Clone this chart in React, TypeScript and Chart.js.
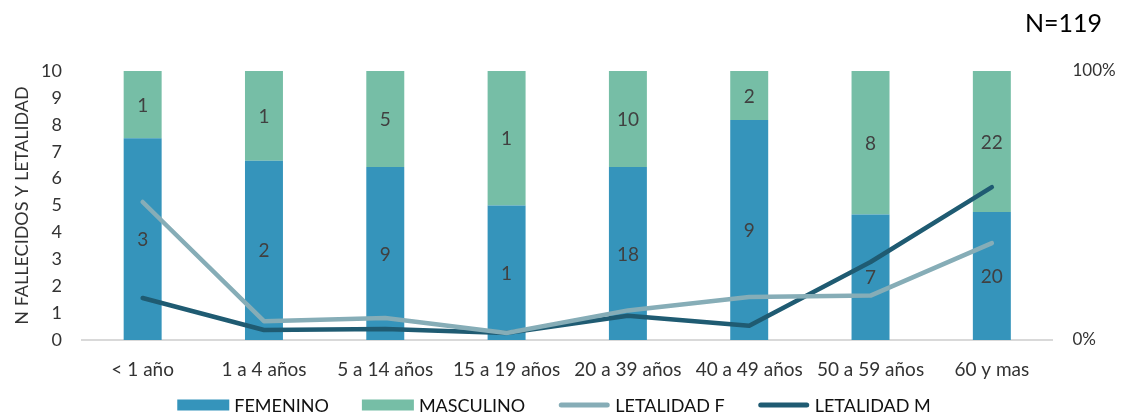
import { useEffect, useRef } from "react";
import { Chart, registerables } from "chart.js";

Chart.register(...registerables);

const categories = [
  "< 1 año",
  "1 a 4 años",
  "5 a 14 años",
  "15 a 19 años",
  "20 a 39 años",
  "40 a 49 años",
  "50 a 59 años",
  "60 y mas",
];
const femeninoCounts = [3, 2, 9, 1, 18, 9, 7, 20];
const masculinoCounts = [1, 1, 5, 1, 10, 2, 8, 22];
// letalidad in percent (right axis 0%-100%)
const letalidadF = [51.3, 7.0, 8.2, 2.6, 11.0, 16.0, 16.5, 36.0];
const letalidadM = [15.6, 3.7, 4.1, 2.6, 9.0, 5.3, 29.0, 56.8];
const leftMax = 10;
const rightMax = 100;
const totalLabel = "N=119";
const yTitle = "N FALLECIDOS Y LETALIDAD";

const FONT = "Lato";
const TEXT = "#333333";

// bar heights: share of each sex within the 0-10 stacked scale
const femeninoShare = femeninoCounts.map((f, i) => (f / (f + masculinoCounts[i])) * leftMax);
const masculinoShare = masculinoCounts.map((m, i) => (m / (femeninoCounts[i] + m)) * leftMax);
const countLabels = [femeninoCounts, masculinoCounts];

const barLabelPlugin = {
  id: "barLabels",
  afterDatasetsDraw(chart: any) {
    const ctx = chart.ctx;
    ctx.save();
    ctx.font = `19px ${FONT}`;
    ctx.fillStyle = "#404040";
    ctx.textAlign = "center";
    ctx.textBaseline = "middle";
    [0, 1].forEach((di) => {
      const meta = chart.getDatasetMeta(di);
      meta.data.forEach((el: any, i: number) => {
        const cy = (el.y + el.base) / 2;
        ctx.fillText(String(countLabels[di][i]), el.x, cy + 1);
      });
    });
    ctx.restore();
  },
};

const totalPlugin = {
  id: "totalLabel",
  afterDraw(chart: any) {
    const ctx = chart.ctx;
    ctx.save();
    ctx.font = `25px ${FONT}`;
    ctx.fillStyle = "#000000";
    ctx.textAlign = "right";
    ctx.textBaseline = "middle";
    ctx.fillText(totalLabel, chart.width - 24, 24);
    ctx.restore();
  },
};

const legendPlugin = {
  id: "customLegend",
  afterDraw(chart: any) {
    const ctx = chart.ctx;
    ctx.save();
    ctx.font = `18px ${FONT}`;
    const items = chart.data.datasets.map((ds: any) => ({
      label: ds.label,
      color: ds.type === "line" ? ds.borderColor : ds.backgroundColor,
      isLine: ds.type === "line",
    }));
    const boxW = 52;
    const gap = 5;
    const spacing = 33;
    const widths = items.map((it: any) => boxW + gap + ctx.measureText(it.label).width);
    const total = widths.reduce((a: number, b: number) => a + b, 0) + spacing * (items.length - 1);
    let x = chart.width / 2 - total / 2 - 9;
    const y = chart.height - 10;
    ctx.textBaseline = "middle";
    ctx.textAlign = "left";
    items.forEach((it: any, i: number) => {
      if (it.isLine) {
        ctx.strokeStyle = it.color;
        ctx.lineWidth = 5;
        ctx.lineCap = "round";
        ctx.beginPath();
        ctx.moveTo(x + 3, y);
        ctx.lineTo(x + boxW - 3, y);
        ctx.stroke();
      } else {
        ctx.fillStyle = it.color;
        ctx.fillRect(x, y - 5.5, boxW, 11);
      }
      ctx.fillStyle = "#111111";
      ctx.fillText(it.label, x + boxW + gap, y + 1);
      x += widths[i] + spacing;
    });
    ctx.restore();
  },
};

export default function App() {
  const ref = useRef<HTMLCanvasElement | null>(null);

  useEffect(() => {
    if (!ref.current) return;
    const chart = new Chart(ref.current, {
      type: "bar",
      data: {
        labels: categories,
        datasets: [
          {
            type: "bar",
            label: "FEMENINO",
            data: femeninoShare,
            backgroundColor: "#3594BB",
            borderWidth: 0,
            yAxisID: "y",
            order: 1,
            barPercentage: 0.313,
            categoryPercentage: 1,
          },
          {
            type: "bar",
            label: "MASCULINO",
            data: masculinoShare,
            backgroundColor: "#76BEA6",
            borderWidth: 0,
            yAxisID: "y",
            order: 1,
            barPercentage: 0.313,
            categoryPercentage: 1,
          },
          {
            type: "line",
            label: "LETALIDAD F",
            data: letalidadF,
            borderColor: "#86ADB7",
            backgroundColor: "#86ADB7",
            borderWidth: 4.5,
            pointRadius: 0,
            tension: 0,
            borderCapStyle: "round",
            borderJoinStyle: "round",
            yAxisID: "y1",
            order: 0,
          },
          {
            type: "line",
            label: "LETALIDAD M",
            data: letalidadM,
            borderColor: "#1F5B72",
            backgroundColor: "#1F5B72",
            borderWidth: 4.5,
            pointRadius: 0,
            tension: 0,
            borderCapStyle: "round",
            borderJoinStyle: "round",
            yAxisID: "y1",
            order: 0,
          },
        ] as any,
      },
      options: {
        animation: false,
        responsive: true,
        maintainAspectRatio: false,
        layout: { padding: { left: 0, right: 0, top: 71, bottom: 25 } },
        plugins: {
          legend: { display: false },
          tooltip: { enabled: false },
          title: { display: false },
        },
        scales: {
          x: {
            stacked: true,
            grid: { display: false, drawTicks: false },
            border: { display: true, color: "#D9D9D9", width: 2 },
            ticks: {
              color: TEXT,
              font: { family: FONT, size: 19 },
              padding: 18,
              maxRotation: 0,
              autoSkip: false,
            },
            afterFit(scale: any) {
              scale.height = 50;
            },
          },
          y: {
            stacked: true,
            position: "left",
            min: 0,
            max: leftMax,
            grid: { display: false, drawTicks: false },
            border: { display: false },
            ticks: {
              stepSize: 1,
              color: TEXT,
              font: { family: FONT, size: 18 },
              padding: 20,
            },
            title: {
              display: true,
              text: yTitle,
              color: TEXT,
              font: { family: FONT, size: 18 },
              padding: { top: 11, bottom: 0 },
            },
            afterFit(scale: any) {
              scale.width = 82;
            },
          },
          y1: {
            position: "right",
            min: 0,
            max: rightMax,
            grid: { display: false, drawTicks: false },
            border: { display: false },
            ticks: {
              stepSize: 100,
              color: TEXT,
              font: { family: FONT, size: 17 },
              padding: 20,
              callback: (v: any) => `${v}%`,
            },
            afterFit(scale: any) {
              scale.width = 73.5;
            },
          },
        },
      },
      plugins: [barLabelPlugin, totalPlugin, legendPlugin],
    });
    return () => chart.destroy();
  }, []);

  return (
    <div style={{ position: "fixed", left: 0, top: 0, width: 1126, height: 415, background: "#fff" }}>
      <canvas ref={ref} />
    </div>
  );
}
